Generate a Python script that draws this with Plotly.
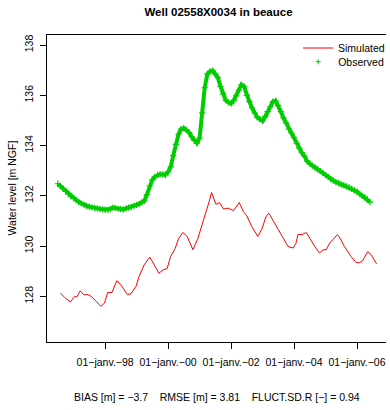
import pandas as pd
import plotly.graph_objects as go

# ---- data ----
obs_start = "1996-07-01"  # monthly observed levels (m NGF)
obs_values = [
    132.48, 132.38, 132.28, 132.18, 132.08, 131.98,
    131.90, 131.83, 131.76, 131.69, 131.64, 131.60, 131.57, 131.54, 131.52, 131.50, 131.48, 131.46,
    131.45, 131.44, 131.47, 131.53, 131.52, 131.48, 131.47, 131.46, 131.50, 131.53, 131.56, 131.60,
    131.64, 131.68, 131.74, 131.80, 132.05, 132.40, 132.63, 132.75, 132.83, 132.86, 132.85, 132.83,
    132.95, 133.15, 133.60, 134.05, 134.45, 134.65, 134.69, 134.62, 134.52, 134.35, 134.20, 134.10,
    134.30, 135.30, 136.30, 136.85, 136.95, 136.98, 136.85, 136.70, 136.35, 136.05, 135.80, 135.72,
    135.68, 135.80, 135.98, 136.20, 136.42, 136.35, 136.00, 135.75, 135.50, 135.30, 135.12, 135.05,
    134.98, 135.15, 135.35, 135.55, 135.75, 135.78, 135.60, 135.35, 135.10, 134.90, 134.65, 134.50,
    134.32, 134.10, 133.90, 133.72, 133.58, 133.38, 133.28, 133.20, 133.12, 133.05, 132.98, 132.90,
    132.82, 132.74, 132.66, 132.60, 132.54, 132.50, 132.45, 132.42, 132.38, 132.34, 132.28, 132.22,
    132.16, 132.08, 132.00, 131.95, 131.85, 131.75,
]

sim_years = [
    1996.58, 1996.72, 1996.90, 1997.03, 1997.10, 1997.21, 1997.30, 1997.35, 1997.45, 1997.56,
    1997.72, 1997.87, 1997.98, 1998.08, 1998.22, 1998.37, 1998.50, 1998.71, 1998.82, 1998.98,
    1999.08, 1999.24, 1999.42, 1999.56, 1999.71, 1999.84, 1999.97, 2000.08, 2000.22, 2000.34,
    2000.47, 2000.61, 2000.79, 2000.95, 2001.08, 2001.19, 2001.30, 2001.38, 2001.52, 2001.63,
    2001.76, 2001.90, 2002.08, 2002.26, 2002.39, 2002.50, 2002.66, 2002.85, 2002.99, 2003.10,
    2003.20, 2003.45, 2003.66, 2003.81, 2003.97, 2004.06, 2004.13, 2004.25, 2004.39, 2004.55,
    2004.66, 2004.81, 2004.92, 2005.02, 2005.13, 2005.23, 2005.37, 2005.43, 2005.60, 2005.81,
    2005.97, 2006.08, 2006.18, 2006.34, 2006.45, 2006.62,
]
sim_values = [
    128.13, 127.95, 127.77, 127.99, 127.97, 128.22, 128.08, 128.06, 128.07, 127.99,
    127.80, 127.60, 127.73, 128.15, 128.15, 128.62, 128.46, 128.06, 128.10, 128.39,
    128.79, 129.25, 129.56, 129.25, 128.92, 129.05, 129.10, 129.58, 129.89, 130.31,
    130.54, 130.38, 129.85, 130.31, 130.91, 131.31, 131.75, 132.13, 131.66, 131.73,
    131.47, 131.51, 131.41, 131.73, 131.37, 131.20, 130.77, 130.38, 130.71, 131.15,
    131.31, 130.77, 130.31, 129.98, 129.92, 130.10, 130.47, 130.45, 130.54, 130.18,
    129.98, 129.72, 129.85, 129.85, 130.12, 130.25, 130.45, 130.38, 129.98, 129.58,
    129.34, 129.34, 129.42, 129.78, 129.65, 129.29,
]

tick_dates = ["1998-01-01", "2000-01-01", "2002-01-01", "2004-01-01", "2006-01-01"]
tick_labels = ["01\u2212janv.\u221298", "01\u2212janv.\u221200", "01\u2212janv.\u221202",
               "01\u2212janv.\u221204", "01\u2212janv.\u221206"]
y_ticks = [128, 130, 132, 134, 136, 138]

title_text = "<b>Well 02558X0034 in beauce</b>"
stats_text = "BIAS [m] = \u22123.7    RMSE [m] = 3.81    FLUCT.SD.R [\u2212] = 0.94"
ylabel = "Water level [m NGF]"


def dec_to_date(y):
    yr = int(y)
    return pd.Timestamp(year=yr, month=1, day=1) + pd.Timedelta(days=(y - yr) * 365.25)


obs_dates = pd.date_range(obs_start, periods=len(obs_values), freq="MS")
sim_dates = [dec_to_date(v) for v in sim_years]

GREEN = "#00CD00"
RED = "#FF0000"
FONT = "Liberation Sans, Arial, sans-serif"

fig = go.Figure()

fig.add_trace(go.Scatter(
    x=sim_dates, y=sim_values, mode="lines", name="Simulated",
    line=dict(color=RED, width=1), legend="legend",
))
fig.add_trace(go.Scatter(
    x=obs_dates, y=obs_values, mode="lines+markers", name="Observed",
    line=dict(color=GREEN, width=4),
    marker=dict(symbol="cross-thin", size=4.5, line=dict(color=GREEN, width=1.2)),
    showlegend=False,
))
fig.add_trace(go.Scatter(
    x=[None], y=[None], mode="markers", name="Observed",
    marker=dict(symbol="cross-thin", size=3.6, color=GREEN, line=dict(color=GREEN, width=1)),
    legend="legend2",
))

fig.update_layout(
    width=390, height=410,
    margin=dict(l=47, r=0, t=35, b=68),
    paper_bgcolor="white", plot_bgcolor="white",
    font=dict(family=FONT, size=10.5, color="black"),
    title=dict(text=title_text, x=(47 + 390) / 2 / 390, xanchor="center",
               y=1 - 12 / 410, yanchor="middle", font=dict(size=11.5)),
    legend=dict(x=0.741, y=(342 - 48) / 307, xanchor="left", yanchor="middle",
                bgcolor="rgba(0,0,0,0)", font=dict(size=10.5)),
    legend2=dict(x=0.741, y=(342 - 61.7) / 307, xanchor="left", yanchor="middle",
                 bgcolor="rgba(0,0,0,0)", font=dict(size=10.5)),
    xaxis=dict(
        type="date", range=["1996-02-27", "2006-12-03"],
        tickvals=tick_dates, ticktext=tick_labels,
        showline=True, linecolor="black", linewidth=1, mirror=True,
        ticks="outside", ticklen=6, tickcolor="black", ticklabelstandoff=4,
        showgrid=False, zeroline=False,
    ),
    yaxis=dict(
        range=[126.18, 138.40], tickvals=y_ticks,
        showline=True, linecolor="black", linewidth=1, mirror=False,
        ticks="outside", ticklen=6, tickcolor="black", tickangle=-90,
        ticklabelstandoff=3,
        showgrid=False, zeroline=False,
    ),
    annotations=[
        dict(text=ylabel, x=-(47 - 12) / 343, xref="paper", y=(342 - 188) / 307, yref="paper",
             showarrow=False, textangle=-90, xanchor="center", yanchor="middle",
             font=dict(size=10.5)),
        dict(text=stats_text, x=0.5, xref="paper", y=-(397 - 342) / 307, yref="paper",
             showarrow=False, xanchor="center", yanchor="middle", font=dict(size=10.5)),
    ],
)

fig.write_html("out.html", config={"displayModeBar": False},
               post_script="document.body.style.margin='0';")
